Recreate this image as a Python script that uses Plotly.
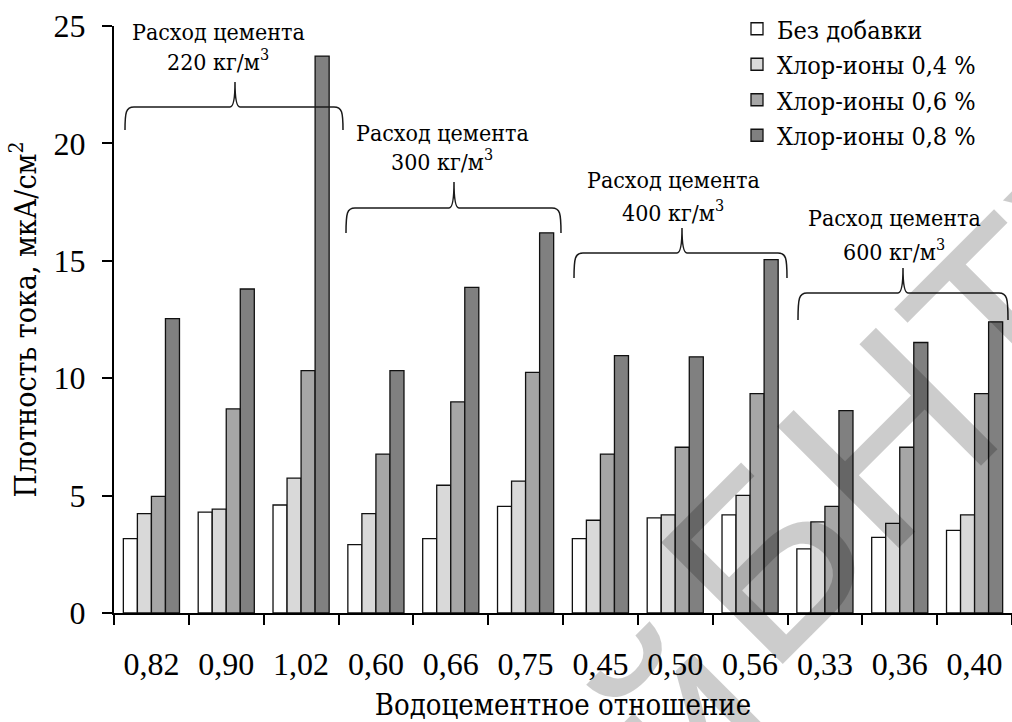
import plotly.graph_objects as go

categories = ["0,82", "0,90", "1,02", "0,60", "0,66", "0,75",
              "0,45", "0,50", "0,56", "0,33", "0,36", "0,40"]
series_names = ["Без добавки", "Хлор-ионы 0,4 %", "Хлор-ионы 0,6 %", "Хлор-ионы 0,8 %"]
no_additive = [3.17, 4.30, 4.60, 2.91, 3.17, 4.54, 3.17, 4.05, 4.18, 2.73, 3.22, 3.52]
chlor_04 = [4.23, 4.42, 5.74, 4.23, 5.44, 5.62, 3.95, 4.18, 5.01, 3.88, 3.82, 4.18]
chlor_06 = [4.97, 8.69, 10.32, 6.77, 8.99, 10.25, 6.77, 7.06, 9.34, 4.54, 7.06, 9.34]
chlor_08 = [12.54, 13.80, 23.72, 10.32, 13.87, 16.19, 10.96, 10.91, 15.05, 8.62, 11.52, 12.40]
series_values = [no_additive, chlor_04, chlor_06, chlor_08]
colors = ["#ffffff", "#d9d9d9", "#a6a6a6", "#808080"]

group_labels = ["220", "300", "400", "600"]
y_ticks = [0, 5, 10, 15, 20, 25]

W, H = 1012, 722
L, R, T, B = 114, 0, 26, 109
PW, PH = W - L - R, H - T - B
SERIF = "Liberation Serif"
CYR = "DejaVu Serif Condensed"


def px(x):
    return (x - L) / PW


def py(y):
    return (H - B - y) / PH


fig = go.Figure()
for name, vals, col in zip(series_names, series_values, colors):
    fig.add_trace(go.Bar(
        x=categories, y=vals, name=name,
        marker=dict(color=col, line=dict(color="#111111", width=1.3)),
    ))

braces = [
    (125, 343, 235, 107, 82, 130),
    (346, 561, 454, 208, 182, 233),
    (574, 787, 682, 253, 228, 278),
    (798, 1008, 903, 293, 268, 320),
]
shapes = []
for x0, x1, xc, yh, yt, yb in braces:
    pts = [
        ("M", [(x0, yb)]),
        ("C", [(x0, yh + 5), (x0 + 1, yh), (x0 + 9, yh)]),
        ("L", [(xc - 5, yh)]),
        ("Q", [(xc, yh), (xc, yt)]),
        ("Q", [(xc, yh), (xc + 5, yh)]),
        ("L", [(x1 - 9, yh)]),
        ("C", [(x1 - 1, yh), (x1, yh + 5), (x1, yb)]),
    ]
    path = " ".join(
        cmd + " " + " ".join(f"{px(a):.5f},{py(b):.5f}" for a, b in p) for cmd, p in pts
    )
    shapes.append(dict(type="path", xref="paper", yref="paper", path=path,
                       line=dict(color="#1a1a1a", width=1.5)))

label_pos = [(218, 32, 60), (442, 133, 160), (673, 180, 211), (894, 218, 250)]
annotations = []
for g, (cx, y1, y2) in zip(group_labels, label_pos):
    annotations.append(dict(xref="paper", yref="paper", x=px(cx), y=py(y1),
                            text="Расход цемента", showarrow=False,
                            xanchor="center", yanchor="middle",
                            font=dict(family=CYR, size=23, color="black")))
    annotations.append(dict(xref="paper", yref="paper", x=px(cx), y=py(y2),
                            text=f"{g} кг/м<sup>3</sup>", showarrow=False,
                            xanchor="center", yanchor="middle",
                            font=dict(family=CYR, size=23, color="black")))

wm_font = dict(family="Liberation Sans", size=250, color="rgba(0,0,0,0.2)")
annotations.append(dict(xref="paper", yref="paper", x=px(940), y=py(385), text="БНТУ",
                        showarrow=False, textangle=-45, xanchor="center", yanchor="middle",
                        font=wm_font))
annotations.append(dict(xref="paper", yref="paper", x=px(210), y=py(1200), text="Репозиторий",
                        showarrow=False, textangle=-45, xanchor="center", yanchor="middle",
                        font=wm_font))

fig.update_layout(
    width=W, height=H,
    margin=dict(l=L, r=R, t=T, b=B, pad=0),
    paper_bgcolor="white", plot_bgcolor="white",
    barmode="group", bargap=0.25, bargroupgap=0,
    font=dict(family=SERIF, color="black"),
    showlegend=True,
    legend=dict(x=px(737), y=py(6), xanchor="left", yanchor="top",
                font=dict(family=CYR, size=25, color="black"),
                bgcolor="rgba(0,0,0,0)", tracegroupgap=0, itemwidth=30),
    shapes=shapes,
    annotations=annotations,
    xaxis=dict(
        type="category", tickson="boundaries", ticks="outside", ticklen=10,
        tickwidth=1.5, tickcolor="black", showline=True, linecolor="black", linewidth=2,
        showgrid=False, tickfont=dict(family=SERIF, size=32, color="black"),
        ticklabelstandoff=22,
        title=dict(text="Водоцементное отношение", standoff=15,
                   font=dict(family=CYR, size=29, color="black")),
    ),
    yaxis=dict(
        range=[0, 25], tickvals=y_ticks, ticks="outside", ticklen=10, tickwidth=1.5,
        tickcolor="black", showline=True, linecolor="black", linewidth=2,
        showgrid=False, zeroline=False,
        tickfont=dict(family=SERIF, size=32, color="black"),
        ticklabelstandoff=10,
        title=dict(text="Плотность тока, мкА/см<sup>2</sup>", standoff=8,
                   font=dict(family=CYR, size=30, color="black")),
    ),
)

fig.write_html("out.html")
